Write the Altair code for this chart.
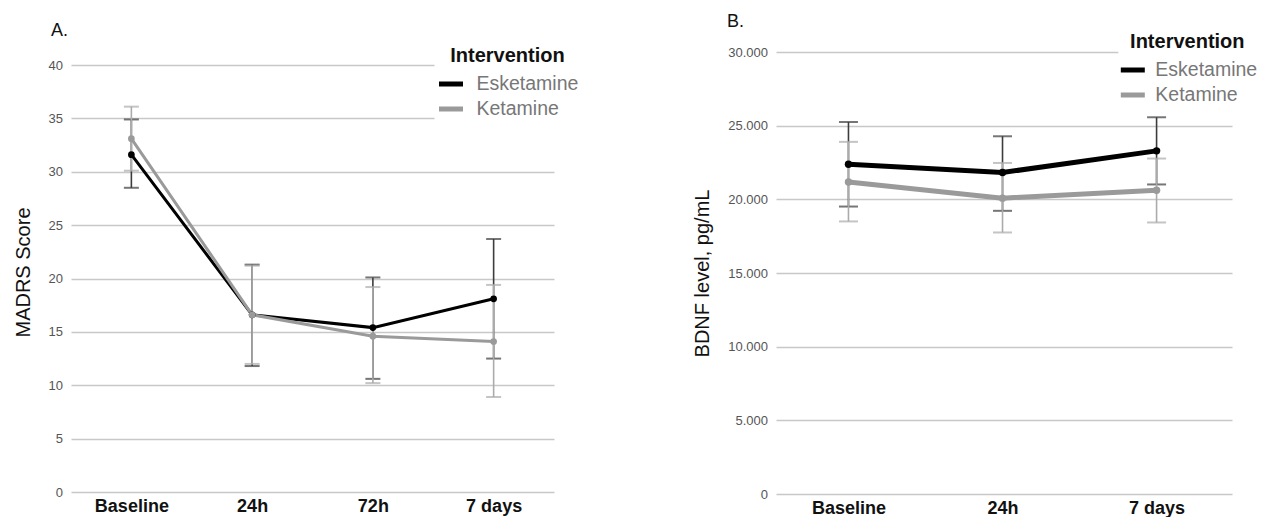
import altair as alt
import pandas as pd

groups = ["Esketamine", "Ketamine"]
line_colors = ["#000000", "#9a9a9a"]
bar_colors = ["#3c3c3c", "#ababab"]

# Panel A: MADRS score
a_times = ["Baseline", "24h", "72h", "7 days"]
a_esk_mean = [31.6, 16.6, 15.4, 18.1]
a_esk_lo = [28.5, 11.8, 10.6, 12.5]
a_esk_hi = [34.9, 21.3, 20.1, 23.7]
a_ket_mean = [33.1, 16.6, 14.6, 14.1]
a_ket_lo = [30.1, 12.0, 10.2, 8.9]
a_ket_hi = [36.1, 21.2, 19.2, 19.4]
a_ticks = [0, 5, 10, 15, 20, 25, 30, 35, 40]

# Panel B: BDNF level
b_times = ["Baseline", "24h", "7 days"]
b_esk_mean = [22380, 21820, 23290]
b_esk_lo = [19510, 19220, 21010]
b_esk_hi = [25250, 24280, 25570]
b_ket_mean = [21180, 20080, 20620]
b_ket_lo = [18500, 17750, 18430]
b_ket_hi = [23900, 22470, 22770]
b_ticks = [0, 5000, 10000, 15000, 20000, 25000, 30000]


def make_frame(times, em, el, eh, km, kl, kh):
    rows = []
    for g, m, lo, hi in [("Esketamine", em, el, eh), ("Ketamine", km, kl, kh)]:
        for t, mv, lv, hv in zip(times, m, lo, hi):
            rows.append({"time": t, "group": g, "mean": mv, "lo": lv, "hi": hv})
    return pd.DataFrame(rows)


df_a = make_frame(a_times, a_esk_mean, a_esk_lo, a_esk_hi, a_ket_mean, a_ket_lo, a_ket_hi)
df_b = make_frame(b_times, b_esk_mean, b_esk_lo, b_esk_hi, b_ket_mean, b_ket_lo, b_ket_hi)


def panel(df, times, ytitle, ydomain, yticks, width, height, xpad, xalign,
          label_expr, line_w, cap_size, pt_size, tag, tag_x, tag_y, leg_x, leg_y, leg_pad,
          leg_off):
    x = alt.X("time:N", sort=times,
              scale=alt.Scale(type="point", padding=xpad, align=xalign),
              axis=alt.Axis(title=None, labelFontWeight="bold", labelFontSize=18,
                            labelColor="#111111", labelPadding=5, ticks=False,
                            domain=False, labelAngle=0, grid=False))
    yaxis = dict(title=ytitle, values=yticks, grid=True, gridColor="#c8c8c8",
                 gridWidth=1.6, domain=False, ticks=False, labelColor="#555555",
                 labelFontSize=13, labelPadding=8.5, titleFontSize=20,
                 titleFontWeight="normal", titleColor="#111111", titlePadding=15)
    if label_expr:
        yaxis["labelExpr"] = label_expr
    yscale = alt.Scale(domain=ydomain, nice=False, zero=True)

    base = alt.Chart(df)
    layers = []
    first = True
    for g, c in zip(groups, bar_colors):
        sub = base.transform_filter(alt.datum.group == g)
        if first:
            yenc = alt.Y("lo:Q", scale=yscale, axis=alt.Axis(**yaxis))
            first = False
        else:
            yenc = alt.Y("lo:Q", scale=yscale)
        layers.append(sub.mark_rule(strokeWidth=1.6, color=c).encode(x=x, y=yenc, y2="hi:Q"))
        layers.append(sub.mark_tick(size=cap_size, thickness=2, color=c).encode(
            x=x, y=alt.Y("lo:Q", scale=yscale)))
        layers.append(sub.mark_tick(size=cap_size, thickness=2, color=c).encode(
            x=x, y=alt.Y("hi:Q", scale=yscale)))
    color = alt.Color(
        "group:N", scale=alt.Scale(domain=groups, range=line_colors),
        legend=alt.Legend(title="Intervention", orient="none", legendX=leg_x, legendY=leg_y,
                          symbolType="stroke", symbolStrokeWidth=5, symbolSize=576,
                          titleFontSize=20, titleFontWeight="bold", titleColor="#111111",
                          labelFontSize=19.5, labelColor="#777777", titleAnchor="middle",
                          fillColor="white", padding=leg_pad, rowPadding=0,
                          labelOffset=leg_off, titlePadding=4, labelLimit=300),
    )
    lines = base.mark_line(strokeWidth=line_w).encode(
        x=x, y=alt.Y("mean:Q", scale=yscale), color=color)
    points = base.mark_circle(size=pt_size, opacity=1).encode(
        x=x, y=alt.Y("mean:Q", scale=yscale), color=color)
    tag_df = pd.DataFrame({"t": [tag]})
    tag_text = alt.Chart(tag_df).mark_text(align="left", baseline="alphabetic",
                                           fontSize=18, color="#111111").encode(
        text="t:N", x=alt.value(tag_x), y=alt.value(tag_y))
    return alt.layer(*layers, lines, points, tag_text).properties(
        width=width, height=height)


chart_a = panel(df_a, a_times, "MADRS Score", [0, 41.22], a_ticks, 483, 440, 0.5, 0.5,
                None, 3, 15, 45, "A.", -20, -16, 363.5, -8.5, 2, 11)
chart_b = panel(df_b, b_times, "BDNF level, pg/mL", [0, 30000], b_ticks, 456, 442, 0.48, 0.49,
                "replace(format(datum.value, ',d'), ',', '.')", 5, 19, 55, "B.", -49, -25,
                342.3, -20.5, 0, 8)

chart = alt.hconcat(chart_a, chart_b, spacing=111).resolve_scale(
    color="independent"
).resolve_legend(color="independent").properties(
    padding={"left": 5, "top": 5, "right": 0, "bottom": 0}
).configure(font="Liberation Sans").configure_view(strokeWidth=0)

chart.save("out.html", embed_options={"renderer": "svg", "actions": False})
